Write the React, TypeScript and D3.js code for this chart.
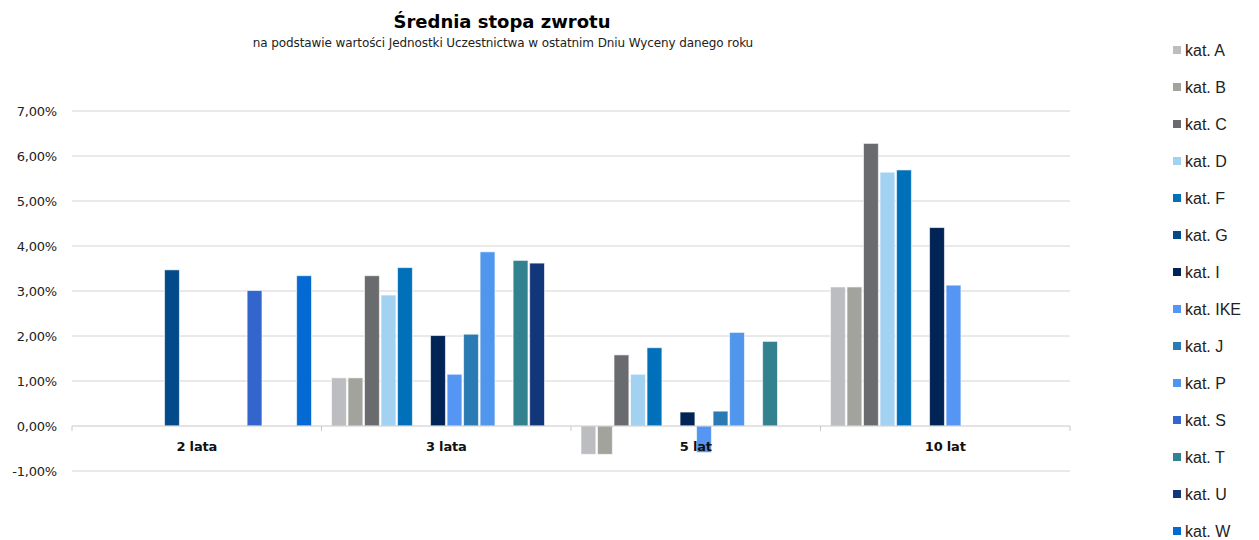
import * as d3 from "d3";

// kategorie (okresy) i serie
const periods = ["2 lata", "3 lata", "5 lat", "10 lat"];
const seriesNames = [
  "kat. A", "kat. B", "kat. C", "kat. D", "kat. F", "kat. G", "kat. I",
  "kat. IKE", "kat. J", "kat. P", "kat. S", "kat. T", "kat. U", "kat. W",
];
const seriesColors = [
  "#BCBDC1", "#A3A39E", "#6A6B6E", "#A2D1F2", "#0070BA", "#024A8A", "#012456",
  "#5596F5", "#2A7BB3", "#4F96EC", "#3366CC", "#31818F", "#113679", "#0569D3",
];

// wartości w % (null = brak słupka), kolejność jak seriesNames
const values2 = [null, null, null, null, null, 3.47, null, null, null, null, 3.01, null, null, 3.34];
const values3 = [1.07, 1.07, 3.34, 2.91, 3.52, null, 2.01, 1.15, 2.04, 3.87, null, 3.68, 3.62, null];
const values5 = [-0.63, -0.63, 1.58, 1.15, 1.74, null, 0.31, -0.59, 0.33, 2.08, null, 1.88, null, null];
const values10 = [3.09, 3.09, 6.28, 5.64, 5.69, null, 4.41, 3.13, null, null, null, null, null, null];
const allValues = [values2, values3, values5, values10];

const yTicks = [-1, 0, 1, 2, 3, 4, 5, 6, 7];

const W = 1259;
const H = 540;
const margin = { top: 111, left: 72, right: 189, bottom: 69 };

export default function App() {
  const x0 = d3.scaleBand().domain(periods).range([margin.left, W - margin.right]);
  const gw = x0.bandwidth();
  const x1 = d3
    .scaleBand()
    .domain(seriesNames)
    .range([10, gw - 10])
    .paddingInner(0.1);
  const y = d3.scaleLinear().domain([-1, 7]).range([H - margin.bottom, margin.top]);
  const fmt = (v: number) => v.toFixed(2).replace(".", ",") + "%";

  return (
    <svg
      width={W}
      height={H}
      style={{ position: "absolute", left: 0, top: 0, background: "#fff" }}
    >
      {/* tytuł */}
      <text x={502} y={28} textAnchor="middle" fontFamily="DejaVu Sans" fontWeight="bold" fontSize={18}>
        Średnia stopa zwrotu
      </text>
      <text x={503} y={47} textAnchor="middle" fontFamily="DejaVu Sans" fontSize={12} fill="#222" letterSpacing={-0.1}>
        na podstawie wartości Jednostki Uczestnictwa w ostatnim Dniu Wyceny danego roku
      </text>

      {/* siatka i etykiety osi Y */}
      {yTicks.map((t) => (
        <g key={t}>
          {t !== 0 && (
            <line x1={margin.left} x2={W - margin.right} y1={y(t)} y2={y(t)} stroke="#D4D4D4" strokeWidth={1} />
          )}
          <text
            x={57}
            y={y(t)}
            dy="0.35em"
            textAnchor="end"
            fontFamily="DejaVu Sans"
            fontSize={13}
            fill="#222"
            letterSpacing={-0.2}
          >
            {fmt(t)}
          </text>
        </g>
      ))}

      {/* słupki */}
      {periods.map((p, gi) => (
        <g key={p} transform={`translate(${x0(p)},0)`}>
          {seriesNames.map((s, si) => {
            const v = allValues[gi][si];
            if (v === null) return null;
            const yTop = y(Math.max(0, v));
            const yBot = y(Math.min(0, v));
            return (
              <rect
                key={s}
                x={x1(s)}
                y={yTop}
                width={x1.bandwidth()}
                height={yBot - yTop}
                fill={seriesColors[si]}
                stroke="#fff"
                strokeOpacity={0.6}
                strokeWidth={1}
              />
            );
          })}
        </g>
      ))}

      {/* oś X */}
      <line x1={margin.left} x2={W - margin.right} y1={y(0)} y2={y(0)} stroke="#C8C8C8" strokeWidth={1} />
      {[...periods.map((p) => x0(p) as number), W - margin.right].map((xx, i) => (
        <line key={i} x1={xx} x2={xx} y1={y(0)} y2={y(0) + 5} stroke="#C8C8C8" />
      ))}
      {periods.map((p) => (
        <text
          key={p}
          x={(x0(p) as number) + gw / 2}
          y={451}
          textAnchor="middle"
          fontFamily="DejaVu Sans"
          fontWeight="bold"
          fontSize={13}
          fill="#111"
          letterSpacing={-0.2}
        >
          {p}
        </text>
      ))}

      {/* legenda */}
      {seriesNames.map((s, i) => {
        const ly = 50 + i * 37;
        return (
          <g key={s}>
            <rect x={1173} y={ly - 4} width={8} height={8} fill={seriesColors[i]} />
            <text x={1185} y={ly} dy="0.36em" fontFamily="Liberation Sans" fontSize={16} fill="#222">
              {s}
            </text>
          </g>
        );
      })}
    </svg>
  );
}
